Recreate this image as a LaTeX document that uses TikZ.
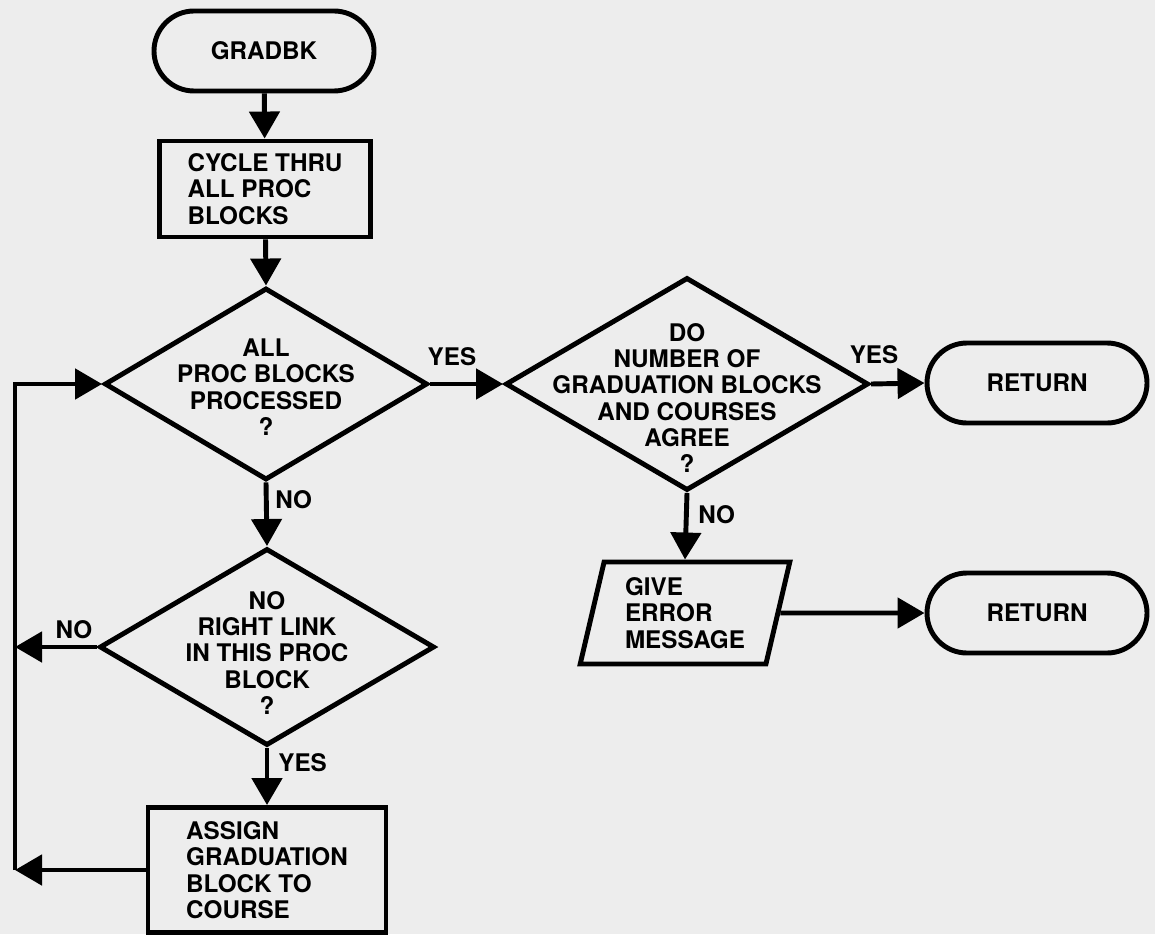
\documentclass[tikz,border=0pt]{standalone}
\usepackage{fontspec}
\setmainfont{TeX Gyre Heros}
\usepackage{xcolor}
\usepackage{tikz}
\usetikzlibrary{shapes,arrows,arrows.meta,positioning}

\definecolor{paper}{gray}{0.93}

\tikzset{
    flow/.style={
        line width=2.8pt,
        >={Triangle[length=0.54cm,width=0.6cm]}
    },
    terminal/.style={
        draw,
        line width=2.8pt,
        rounded rectangle,
        minimum width=4.4cm,
        minimum height=1.6cm,
        inner sep=0pt
    },
    procbox/.style={
        draw,
        line width=2.8pt,
        rectangle,
        align=left,
        inner sep=0pt
    },
    decision/.style={
        draw,
        line width=2.8pt,
        diamond,
        inner sep=0pt
    },
    iobox/.style={
        draw,
        line width=2.8pt,
        trapezium,
        trapezium left angle=76,
        trapezium right angle=104,
        trapezium stretches=true,
        minimum width=4.2cm,
        minimum height=2.04cm,
        align=left,
        inner sep=0pt
    },
    answer/.style={
        inner sep=0pt
    }
}

\begin{document}
\begin{tikzpicture}[
        font=\bfseries\fontsize{13.8}{15}\selectfont
    ]
                \fill[paper] (0,0) rectangle (23.1,-18.68);
                \useasboundingbox (0,0) rectangle (23.1,-18.68);

                \node[terminal] (gradbk) at (5.28,-1.02) {GRADBK};

                \node[
                    procbox,
                    minimum width=4.22cm,
                    minimum height=1.92cm
                    ] (cycle) at (5.3,-3.78) {CYCLE THRU\\ALL PROC\\BLOCKS};

                \node[
                    decision,
                    minimum width=6.46cm,
                    minimum height=3.84cm
                    ] (allproc) at (5.32,-7.68) {};
                \node[align=center] at ([yshift=-0.06cm]allproc.center)
                    {ALL\\PROC BLOCKS\\PROCESSED\\?};

                \node[
                    decision,
                    minimum width=6.7cm,
                    minimum height=3.94cm
                    ] (rightlink) at (5.34,-12.94) {};
                \node[align=center] at ([yshift=-0.12cm]rightlink.center)
                    {NO\\RIGHT LINK\\IN THIS PROC\\BLOCK\\?};

                \node[
                    procbox,
                    minimum width=4.76cm,
                    minimum height=2.5cm
                    ] (assign) at (5.34,-17.4) {ASSIGN\\GRADUATION\\BLOCK TO\\COURSE};

                \node[
                    decision,
                    minimum width=7.26cm,
                    minimum height=4.26cm
                    ] (agree) at (13.74,-7.68) {};
                \node[align=center] at ([yshift=-0.28cm]agree.center)
                    {DO\\NUMBER OF\\GRADUATION BLOCKS\\AND COURSES\\AGREE\\?};

                \node[terminal] (return1) at (20.74,-7.66) {RETURN};

                \node[iobox] (error) at (13.7,-12.26) {GIVE\\ERROR\\MESSAGE};

                \node[terminal] (return2) at (20.74,-12.26) {RETURN};

                \coordinate (railtop) at (0.3,-7.68);
                \coordinate (railbot) at (assign.west -| railtop);

                \draw[flow, ->] (gradbk) to (cycle);
                \draw[flow, ->] (cycle) to (allproc.north);
                \draw[flow, ->] (allproc.south) to (rightlink.north);
                \draw[flow, ->] (rightlink.south) to (assign);
                \draw[flow, ->] (allproc.east) to (agree.west);
                \draw[flow, ->] (agree.east) to (return1.west);
                \draw[flow, ->] (agree.south) to (error.north);
                \draw[flow, ->] (error.east) to (return2.west);

                \draw[flow, ->] (rightlink.west) to (rightlink.west -| railtop);
                \draw[flow, ->] (assign.west) to (railbot);
                \draw[flow, ->] (railbot) -- (railtop) -- (allproc.west);

                \node[answer, anchor=west] (no1) at (5.5,-10.0) {NO};
                \node[answer, anchor=west] (yes1) at (5.56,-15.26) {YES};
                \node[answer] (no2) at (1.48,-12.6) {NO};
                \node[answer] (yes2) at (9.04,-7.14) {YES};
                \node[answer, anchor=west] (no3) at (13.96,-10.3) {NO};
                \node[answer] (yes3) at (17.48,-7.1) {YES};

\end{tikzpicture}
\end{document}
